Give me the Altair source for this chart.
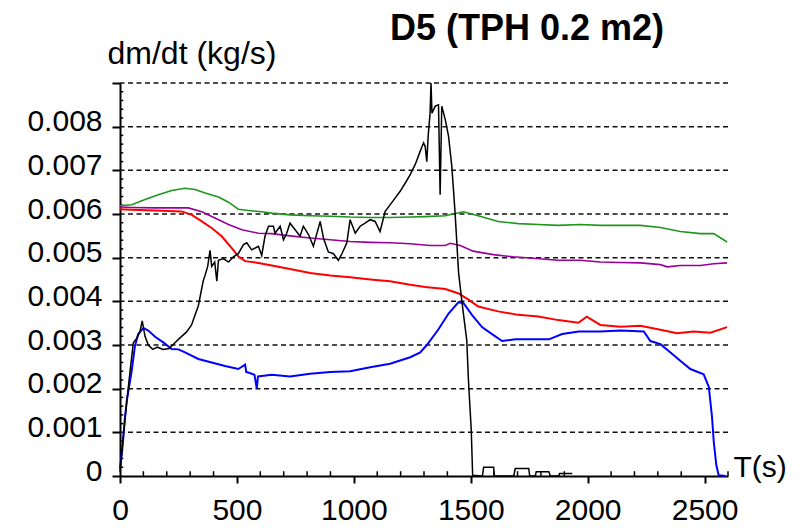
import altair as alt
import pandas as pd

# ---------------- data ----------------
blue_t = [0, 7, 14, 21, 29, 36, 50, 64, 78, 100, 121, 150, 185, 221, 250, 278, 335, 392, 449, 506,
          535, 540, 549, 575, 585, 590, 606, 649, 727, 813, 899, 984, 1070, 1155, 1241, 1284, 1312,
          1362, 1405, 1448, 1469, 1505, 1548, 1591, 1634, 1691, 1762, 1834, 1891, 1962, 2054, 2140,
          2240, 2268, 2311, 2354, 2396, 2439, 2496, 2518, 2532, 2539, 2550, 2560, 2590]
blue_v = [0.00018, 0.00048, 0.00087, 0.00133, 0.00172, 0.00195, 0.00241, 0.00298, 0.00325, 0.00339,
          0.00333, 0.00319, 0.00306, 0.00291, 0.00290, 0.00283, 0.00268, 0.00260, 0.00252, 0.00245,
          0.00255, 0.00238, 0.00237, 0.00232, 0.00200, 0.00228, 0.00229, 0.00232, 0.00228, 0.00234,
          0.00238, 0.00240, 0.00249, 0.00257, 0.00272, 0.00283, 0.00300, 0.00336, 0.00372, 0.00398,
          0.00396, 0.00369, 0.00341, 0.00325, 0.00309, 0.00313, 0.00313, 0.00313, 0.00325, 0.00331,
          0.00331, 0.00333, 0.00331, 0.00309, 0.00302, 0.00283, 0.00264, 0.00245, 0.00233, 0.00204,
          0.00133, 0.00079, 0.00025, 0.00002, 0.0]

black_t = [0, 14, 29, 43, 57, 71, 85, 95, 107, 121, 140, 160, 185, 210, 235, 260, 285, 306, 335, 356,
           364, 375, 385, 392, 405, 414, 421, 442, 464, 485, 506, 528, 542, 563, 592, 606, 620, 635,
           656, 663, 685, 699, 713, 727, 749, 770, 784, 806, 827, 856, 870, 891, 913, 934, 949, 970,
           984, 1006, 1027, 1048, 1070, 1091, 1112, 1134, 1155, 1177, 1198, 1220, 1241, 1262, 1284,
           1298, 1305, 1312, 1318, 1326, 1330, 1334, 1348, 1362, 1369, 1376, 1391, 1405, 1419, 1433,
           1448, 1462, 1483, 1490, 1502, 1508, 1550, 1555, 1598, 1600, 1684, 1690, 1748, 1752, 1776,
           1780, 1834, 1840, 1876, 1880, 1934]
black_v = [0.0001, 0.0009, 0.0017, 0.0024, 0.00305, 0.00315, 0.0033, 0.00355, 0.0032, 0.0030,
           0.0029, 0.00295, 0.0029, 0.00292, 0.00305, 0.00318, 0.0033, 0.00346, 0.0039, 0.00447,
           0.0046, 0.0048, 0.00517, 0.0048, 0.0049, 0.00446, 0.00494, 0.00498, 0.0049, 0.00502,
           0.00509, 0.0053, 0.00534, 0.00518, 0.00526, 0.00505, 0.00549, 0.00572, 0.00572, 0.00556,
           0.00572, 0.00541, 0.00556, 0.00579, 0.00564, 0.00549, 0.00572, 0.00553, 0.00526, 0.00583,
           0.00545, 0.00513, 0.00509, 0.00494, 0.00509, 0.00534, 0.00587, 0.00556, 0.00572, 0.00579,
           0.00587, 0.00583, 0.0056, 0.00606, 0.00621, 0.00637, 0.00652, 0.00671, 0.0069, 0.00713,
           0.00744, 0.00763, 0.00755, 0.0072, 0.0078, 0.00831, 0.009, 0.00831, 0.00847, 0.0085,
           0.00644, 0.00847, 0.00816, 0.00778, 0.00709, 0.00602, 0.00465, 0.0040, 0.0031, 0.0022,
           0.00106, 0.00002, 0.0, 0.0002, 0.0002, 0.0, 0.0, 0.00017, 0.00017, 0.0, 0.0,
           0.0001, 0.0001, 0.0, 0.0, 0.00006, 0.00006]

red_t = [0, 50, 150, 263, 307, 350, 392, 435, 478, 506, 535, 592, 649, 727, 813, 899, 984, 1070, 1155,
         1241, 1305, 1391, 1448, 1490, 1532, 1617, 1703, 1789, 1874, 1960, 1996, 2054, 2140, 2225,
         2311, 2382, 2453, 2525, 2596]
red_v = [0.00611, 0.0061, 0.00608, 0.00606, 0.00598, 0.00583, 0.00568, 0.00549, 0.00522, 0.00503,
         0.00492, 0.00488, 0.00482, 0.00474, 0.00465, 0.00459, 0.00455, 0.0045, 0.00446, 0.00438,
         0.00433, 0.00428, 0.00418, 0.00404, 0.00388, 0.00377, 0.00369, 0.00365, 0.00357, 0.00351,
         0.00365, 0.00346, 0.00342, 0.00344, 0.00335, 0.00327, 0.00331, 0.00328, 0.00341]

green_t = [0, 50, 107, 164, 221, 278, 321, 364, 421, 464, 506, 549, 606, 649, 727, 813, 899, 984, 1070,
           1155, 1241, 1305, 1391, 1468, 1532, 1617, 1703, 1789, 1874, 1968, 2054, 2140, 2225, 2311,
           2396, 2482, 2539, 2596]
green_v = [0.00619, 0.00621, 0.00633, 0.00644, 0.00654, 0.00659, 0.00656, 0.00648, 0.00639, 0.00627,
           0.00611, 0.00608, 0.00605, 0.00602, 0.00598, 0.00596, 0.00595, 0.00593, 0.00592, 0.00592,
           0.00593, 0.00594, 0.00596, 0.00605, 0.00596, 0.00583, 0.00578, 0.00576, 0.00574, 0.00576,
           0.00574, 0.00574, 0.00574, 0.00569, 0.0056, 0.00555, 0.00555, 0.00536]

purple_t = [0, 50, 150, 292, 350, 406, 464, 521, 592, 649, 727, 813, 899, 984, 1070, 1155, 1241, 1326,
            1391, 1412, 1455, 1510, 1596, 1681, 1781, 1874, 1968, 2054, 2140, 2225, 2311, 2340, 2396,
            2482, 2539, 2596]
purple_v = [0.00616, 0.00615, 0.00614, 0.00614, 0.00605, 0.00591, 0.00576, 0.00564, 0.00556, 0.00555,
            0.0055, 0.00545, 0.00541, 0.00537, 0.00535, 0.00534, 0.00532, 0.00528, 0.00528, 0.00533,
            0.00528, 0.00515, 0.00507, 0.00502, 0.00498, 0.00494, 0.00494, 0.0049, 0.00489, 0.00488,
            0.00484, 0.00479, 0.00482, 0.00482, 0.00486, 0.00488]

x_major = [0, 500, 1000, 1500, 2000, 2500]
x_minor = [100, 200, 300, 400, 600, 700, 800, 900, 1100, 1200, 1300, 1400, 1600, 1700, 1800, 1900,
           2100, 2200, 2300, 2400, 2600]
y_major = [0, 0.001, 0.002, 0.003, 0.004, 0.005, 0.006, 0.007, 0.008, 0.009]
y_minor = [round(m * 0.001 + k * 0.0002, 4) for m in range(9) for k in range(1, 5)]
grid_vals = [0.001, 0.002, 0.003, 0.004, 0.005, 0.006, 0.007, 0.008, 0.009]

# ---------------- chart ----------------
FONT = "Liberation Sans"
W, H = 608, 393
xs = alt.Scale(domain=[0, 2600], nice=False, zero=False)
ys = alt.Scale(domain=[0, 0.009], nice=False, zero=False)

xaxis = alt.Axis(values=x_major, format="d", tickSize=7, tickWidth=2, tickColor="black",
                 domainColor="black", domainWidth=2, labelFont=FONT, labelFontSize=30,
                 labelColor="black", labelPadding=12, labelFlush=False, grid=False, title="T(s)",
                 titleFont=FONT, titleFontSize=30, titleFontWeight="normal", titleColor="black",
                 titleX=613, titleY=0, titleAlign="left", titleBaseline="alphabetic", titleAngle=0)
yaxis = alt.Axis(values=y_major, format=".3~f",
                 labelExpr="datum.value > 0.0085 ? '' : datum.label",
                 tickSize=8, tickWidth=2, tickColor="black", domainColor="black", domainWidth=2,
                 labelFont=FONT, labelFontSize=30, labelColor="black", labelPadding=10,
                 labelOffset=-5, grid=False, title="dm/dt (kg/s)", titleFont=FONT,
                 titleFontSize=32, titleFontWeight="normal", titleColor="black", titleAngle=0,
                 titleX=-13, titleY=-20, titleAlign="left", titleBaseline="alphabetic")

grid = alt.Chart(pd.DataFrame({"v": grid_vals})).mark_rule(
    color="#111111", strokeWidth=1.5, strokeDash=[5, 3.5]
).encode(y=alt.Y("v:Q", scale=ys, axis=yaxis))

xmin = alt.Chart(pd.DataFrame({"t": x_minor})).mark_rule(color="black", strokeWidth=1.5).encode(
    x=alt.X("t:Q", scale=xs, axis=xaxis),
    y=alt.YDatum(0, scale=ys, axis=yaxis),
    y2=alt.Y2Datum(0.00011))
ymin = alt.Chart(pd.DataFrame({"v": y_minor})).mark_rule(color="black", strokeWidth=1.5).encode(
    y=alt.Y("v:Q", scale=ys, axis=yaxis),
    x=alt.XDatum(0, scale=xs, axis=xaxis),
    x2=alt.X2Datum(14))


def line(t, v, color, width):
    df = pd.DataFrame({"t": t, "v": v})
    return alt.Chart(df).mark_line(color=color, strokeWidth=width, interpolate="linear").encode(
        x=alt.X("t:Q", scale=xs, axis=xaxis), y=alt.Y("v:Q", scale=ys, axis=yaxis))


chart = alt.layer(
    grid, xmin, ymin,
    line(green_t, green_v, "#1e961e", 1.6),
    line(purple_t, purple_v, "#990099", 1.6),
    line(red_t, red_v, "#ff0000", 2),
    line(blue_t, blue_v, "#0000ff", 2),
    line(black_t, black_v, "#000000", 1.5),
).properties(
    width=W, height=H,
    background="white",
    title=alt.Title("D5 (TPH 0.2 m2)", font=FONT, fontSize=36, fontWeight="bold", color="black",
                    anchor="start", frame="group", dx=270, dy=39, offset=0, baseline="alphabetic"),
    autosize=alt.AutoSizeParams(type="none"),
    padding={"left": 112, "top": 75, "right": 64, "bottom": 52},
).configure_view(stroke=None)

chart.save("out.html", embed_options={"renderer": "svg", "actions": False})
